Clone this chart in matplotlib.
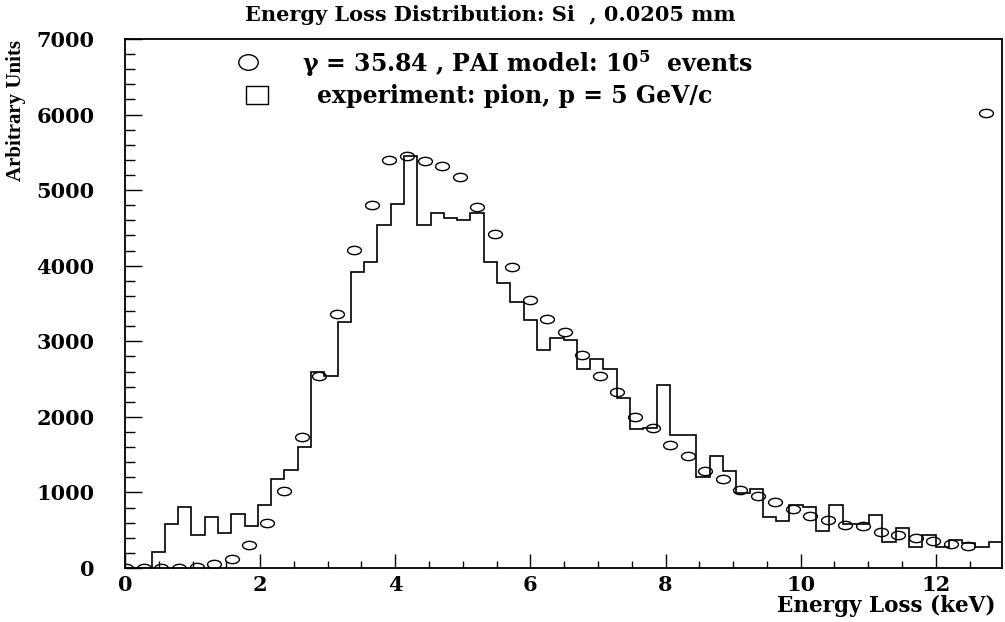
import numpy as np
import matplotlib
matplotlib.use('Agg')
import matplotlib.pyplot as plt
from matplotlib.path import Path
from matplotlib.transforms import Affine2D
from matplotlib.lines import Line2D

# experiment: pion, p = 5 GeV/c  (66 bins over the axis range)
exp_edges = np.linspace(0, 12.98, 67)
exp_counts = [0, 0, 212, 586, 802, 436, 678, 458, 709, 556,
              833, 1172, 1296, 1600, 2600, 2543, 3249, 3923, 4048, 4541,
              4819, 5458, 4541, 4696, 4630, 4603, 4696, 4048, 3770, 3519,
              3284, 2884, 3037, 3011, 2636, 2760, 2636, 2248, 1843, 1855,
              2425, 1754, 1754, 1198, 1481, 1287, 987, 1045, 675, 626,
              828, 805, 493, 828, 586, 586, 705, 344, 524, 282,
              431, 282, 365, 325, 282, 344]

# PAI model, gamma = 35.84, 1e5 events
pai_x = 0.02 + np.arange(50) * 0.2596
pai_counts = [0, 0, 0, 5, 15, 55, 123, 300, 600, 1013,
              1733, 2544, 3360, 4210, 4805, 5400, 5455, 5390, 5315, 5176,
              4780, 4423, 3988, 3549, 3301, 3126, 2823, 2547, 2331, 2001,
              1853, 1633, 1478, 1288, 1181, 1026, 956, 867, 784, 683,
              632, 564, 550, 480, 436, 392, 361, 312, 295, 6025]

title = 'Energy Loss Distribution: Si  , 0.0205 mm'
label_pai = r'$\gamma$ = 35.84 , PAI model: 10$^{\mathbf{5}}$  events'
label_exp = 'experiment: pion, p = 5 GeV/c'

plt.rcParams['font.family'] = 'DejaVu Serif'
plt.rcParams['font.weight'] = 'bold'
plt.rcParams['mathtext.fontset'] = 'dejavuserif'
plt.rcParams['mathtext.default'] = 'bf'

# open markers: flattened circle and a slightly wide box
ellipse = Path.unit_circle().transformed(Affine2D().scale(1.0, 0.6))
round_mk = Path.unit_circle().transformed(Affine2D().scale(1.0, 0.8))
box = Path([(-1, -0.8), (1, -0.8), (1, 0.8), (-1, 0.8), (-1, -0.8)],
           [Path.MOVETO, Path.LINETO, Path.LINETO, Path.LINETO, Path.CLOSEPOLY])

fig = plt.figure(figsize=(10.05, 6.22), dpi=100)
ax = fig.add_axes([0.1244, 0.0868, 0.8726, 0.8505])

ax.stairs(exp_counts, exp_edges, color='black', linewidth=1.2, baseline=None)
ax.plot(pai_x, pai_counts, linestyle='none', marker=ellipse, markersize=10,
        markerfacecolor='none', markeredgecolor='black', markeredgewidth=1.0)

ax.set_xlim(0, 12.98)
ax.set_ylim(0, 7000)
ax.set_xticks(np.arange(0, 13, 2))
ax.set_xticks(np.arange(0, 13, 0.5), minor=True)
ax.set_yticks(np.arange(0, 7001, 1000))
ax.set_yticks(np.arange(0, 7001, 200), minor=True)
ax.tick_params(axis='both', which='both', direction='in', width=1.0, labelsize=15)
ax.tick_params(axis='y', which='major', length=12, pad=22)
ax.tick_params(axis='y', which='minor', length=7)
ax.tick_params(axis='x', which='major', length=10, pad=5)
ax.tick_params(axis='x', which='minor', length=5)
for s in ax.spines.values():
    s.set_linewidth(1.3)

fig.text(0.488, 0.976, title, ha='center', va='center', fontsize=15)
fig.text(0.991, 0.026, 'Energy Loss (keV)', ha='right', va='center', fontsize=15.5)
fig.text(0.016, 0.823, 'Arbitrary Units', rotation=90, ha='center', va='center',
         fontsize=15, family='Liberation Serif')

# legend block
fig.add_artist(Line2D([0.247], [0.900], transform=fig.transFigure, linestyle='none',
                      marker=round_mk, markersize=14, markerfacecolor='none',
                      markeredgecolor='black', markeredgewidth=1.0))
fig.add_artist(Line2D([0.256], [0.847], transform=fig.transFigure, linestyle='none',
                      marker=box, markersize=16, markerfacecolor='none',
                      markeredgecolor='black', markeredgewidth=1.0))
fig.text(0.300, 0.898, label_pai, ha='left', va='center', fontsize=17)
fig.text(0.315, 0.846, label_exp, ha='left', va='center', fontsize=17)

plt.savefig('out.png', dpi=100)
